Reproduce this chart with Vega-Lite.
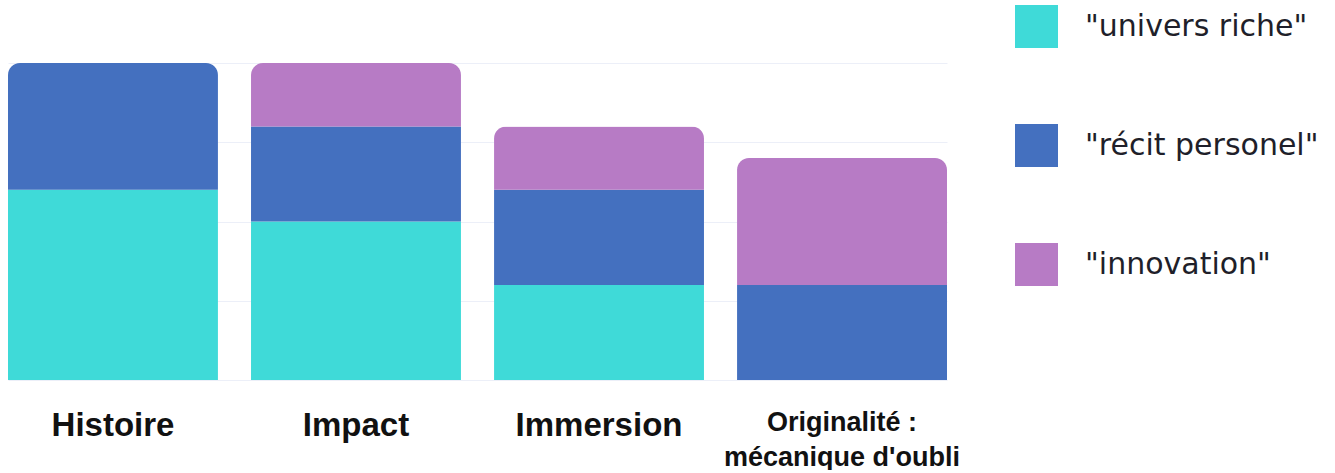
{
  "$schema": "https://vega.github.io/schema/vega-lite/v6.json",
  "width": 939,
  "height": 317,
  "padding": {"left": 8, "top": 5, "right": 0, "bottom": 0},
  "background": "white",
  "data": {
    "values": [
      {"critere": "Histoire", "cat": "\"univers riche\"", "n": 12},
      {"critere": "Histoire", "cat": "\"récit personel\"", "n": 8},
      {"critere": "Impact", "cat": "\"univers riche\"", "n": 10},
      {"critere": "Impact", "cat": "\"récit personel\"", "n": 6},
      {"critere": "Impact", "cat": "\"innovation\"", "n": 4},
      {"critere": "Immersion", "cat": "\"univers riche\"", "n": 6},
      {"critere": "Immersion", "cat": "\"récit personel\"", "n": 6},
      {"critere": "Immersion", "cat": "\"innovation\"", "n": 4},
      {"critere": "Originalité : mécanique d'oubli", "cat": "\"récit personel\"", "n": 6},
      {"critere": "Originalité : mécanique d'oubli", "cat": "\"innovation\"", "n": 8}
    ]
  },
  "mark": {"type": "bar", "cornerRadiusTopLeft": 12, "cornerRadiusTopRight": 12},
  "encoding": {
    "x": {
      "field": "critere",
      "type": "nominal",
      "sort": null,
      "scale": {"paddingInner": 0.136, "paddingOuter": 0},
      "axis": {
        "title": null,
        "domain": false,
        "ticks": false,
        "labelAngle": 0,
        "labelPadding": 29,
        "labelLimit": 400,
        "labelFont": "Liberation Sans",
        "labelFontWeight": "bold",
        "labelFontSize": {"condition": {"test": "length(datum.label) > 12", "value": 27}, "value": 33},
        "labelLineHeight": 35,
        "labelColor": "#111111",
        "labelExpr": "length(datum.label) > 12 ? ['Originalité :', \"mécanique d'oubli\"] : datum.label"
      }
    },
    "y": {
      "field": "n",
      "type": "quantitative",
      "stack": "zero",
      "scale": {"domain": [0, 20], "nice": false},
      "axis": {
        "title": null,
        "domain": false,
        "ticks": false,
        "labels": false,
        "values": [0, 5, 10, 15, 20],
        "gridColor": "#eceff8",
        "gridWidth": 1
      }
    },
    "color": {
      "field": "cat",
      "type": "nominal",
      "scale": {
        "domain": ["\"univers riche\"", "\"récit personel\"", "\"innovation\""],
        "range": ["#3fdad8", "#4470bf", "#b77bc5"]
      },
      "legend": {
        "title": null,
        "orient": "none",
        "legendX": 1007,
        "legendY": -58,
        "padding": 0,
        "symbolType": "square",
        "symbolSize": 1849,
        "symbolStrokeWidth": 0,
        "rowPadding": 76,
        "labelOffset": 27,
        "labelFont": "DejaVu Sans",
        "labelFontSize": 30,
        "labelColor": "#1f1f2a",
        "labelLimit": 400
      }
    },
    "order": {"field": "cat", "sort": "descending"}
  },
  "config": {"view": {"stroke": null}}
}
